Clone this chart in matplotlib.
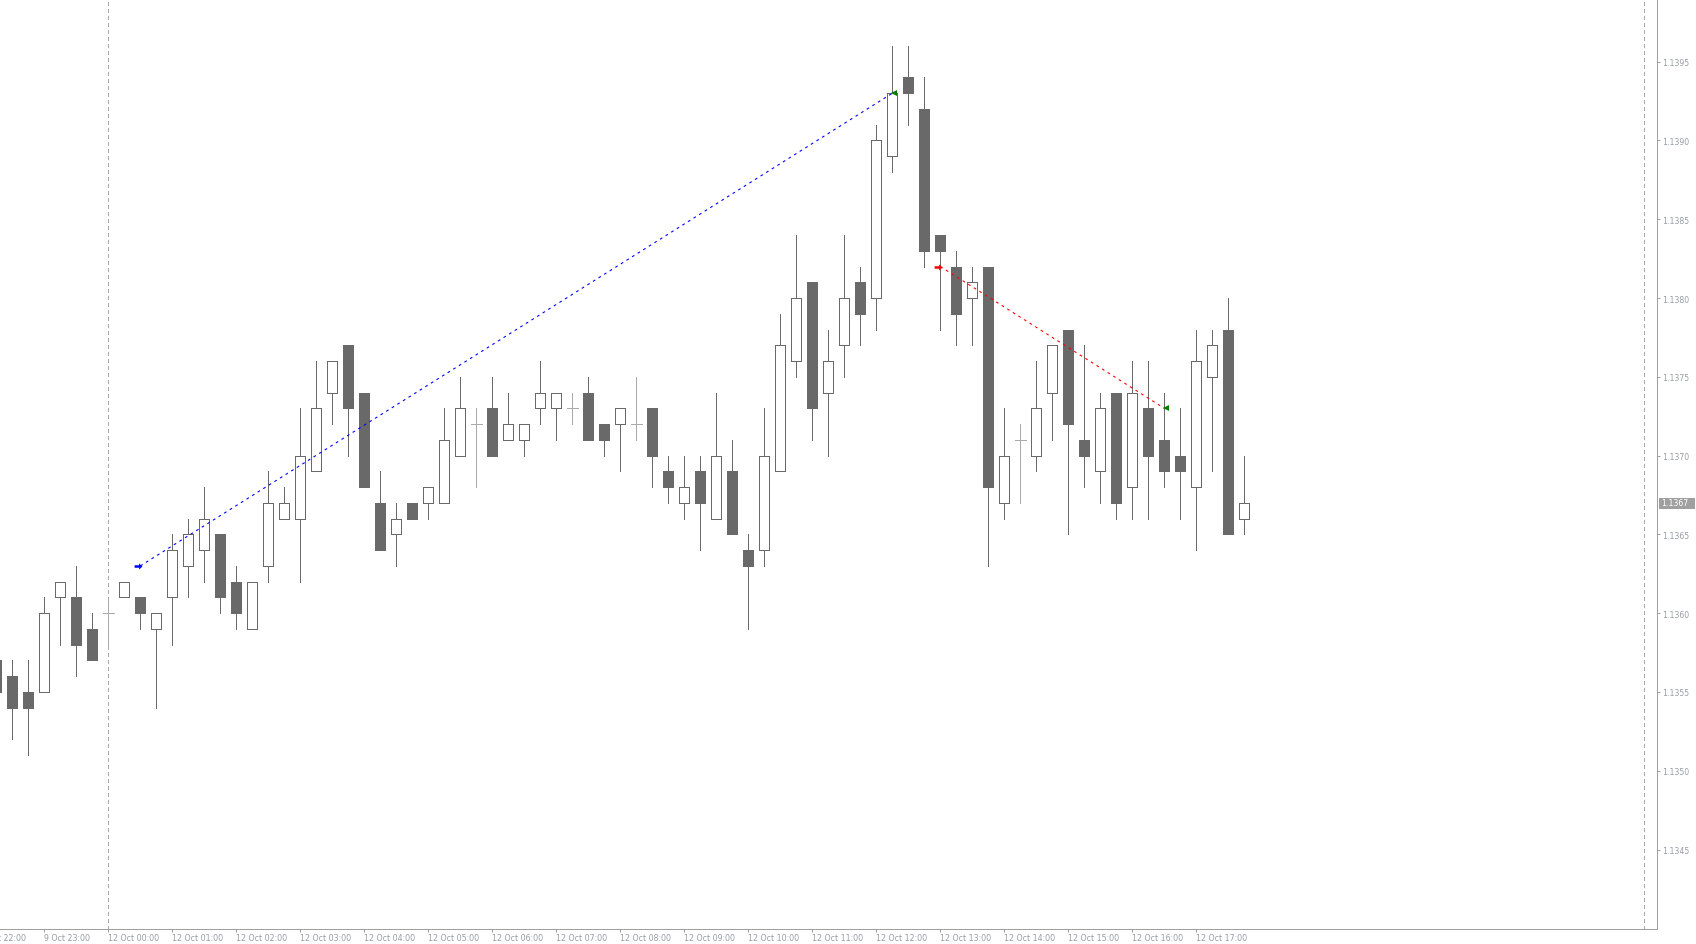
import matplotlib
matplotlib.use("Agg")
import matplotlib.pyplot as plt
from matplotlib.path import Path
from matplotlib import transforms
import numpy as np

# ---------------- data (EURUSD M15, bar 0 = 12 Oct 00:00) ----------------
bar_index = list(range(-7, 72))
opens = [1.1357, 1.1356, 1.1355, 1.1355, 1.1361, 1.1361, 1.1359,
         1.1360, 1.1361, 1.1361, 1.1359, 1.1361, 1.1363, 1.1364, 1.1365,
         1.1362, 1.1359, 1.1363, 1.1366, 1.1366, 1.1369, 1.1374, 1.1377,
         1.1374, 1.1367, 1.1365, 1.1367, 1.1367, 1.1367, 1.1370, 1.1372,
         1.1373, 1.1371, 1.1371, 1.1373, 1.1373, 1.1373, 1.1374, 1.1372,
         1.1372, 1.1372, 1.1373, 1.1369, 1.1367, 1.1369, 1.1366, 1.1369,
         1.1364, 1.1364, 1.1369, 1.1376, 1.1381, 1.1374, 1.1377, 1.1381,
         1.1380, 1.1389, 1.1394, 1.1392, 1.1384, 1.1382, 1.1380, 1.1382,
         1.1367, 1.1371, 1.1370, 1.1374, 1.1378, 1.1371, 1.1369, 1.1374,
         1.1368, 1.1373, 1.1371, 1.1370, 1.1368, 1.1375, 1.1378, 1.1366]
highs = [1.1358, 1.1357, 1.1357, 1.1361, 1.1362, 1.1363, 1.1360,
         1.1361, 1.1362, 1.1361, 1.1360, 1.1365, 1.1366, 1.1368, 1.1365,
         1.1363, 1.1362, 1.1369, 1.1368, 1.1373, 1.1376, 1.1376, 1.1377,
         1.1374, 1.1369, 1.1367, 1.1367, 1.1368, 1.1373, 1.1375, 1.1373,
         1.1375, 1.1374, 1.1372, 1.1376, 1.1374, 1.1374, 1.1375, 1.1372,
         1.1373, 1.1375, 1.1373, 1.1370, 1.1370, 1.1370, 1.1374, 1.1371,
         1.1365, 1.1373, 1.1379, 1.1384, 1.1381, 1.1378, 1.1384, 1.1382,
         1.1391, 1.1396, 1.1396, 1.1394, 1.1384, 1.1383, 1.1382, 1.1382,
         1.1373, 1.1372, 1.1376, 1.1377, 1.1378, 1.1377, 1.1374, 1.1374,
         1.1376, 1.1376, 1.1374, 1.1373, 1.1378, 1.1378, 1.1380, 1.1370]
lows = [1.1354, 1.1352, 1.1351, 1.1355, 1.1358, 1.1356, 1.1357,
        1.1358, 1.1361, 1.1359, 1.1354, 1.1358, 1.1361, 1.1362, 1.1360,
        1.1359, 1.1359, 1.1362, 1.1366, 1.1362, 1.1369, 1.1372, 1.1370,
        1.1368, 1.1364, 1.1363, 1.1366, 1.1366, 1.1367, 1.1370, 1.1368,
        1.1370, 1.1371, 1.1370, 1.1372, 1.1371, 1.1372, 1.1371, 1.1370,
        1.1369, 1.1371, 1.1368, 1.1367, 1.1366, 1.1364, 1.1366, 1.1365,
        1.1359, 1.1363, 1.1369, 1.1375, 1.1371, 1.1370, 1.1375, 1.1377,
        1.1378, 1.1388, 1.1391, 1.1382, 1.1378, 1.1377, 1.1377, 1.1363,
        1.1366, 1.1367, 1.1369, 1.1371, 1.1365, 1.1368, 1.1367, 1.1366,
        1.1366, 1.1366, 1.1368, 1.1366, 1.1364, 1.1369, 1.1365, 1.1365]
closes = [1.1355, 1.1354, 1.1354, 1.1360, 1.1362, 1.1358, 1.1357,
          1.1360, 1.1362, 1.1360, 1.1360, 1.1364, 1.1365, 1.1366, 1.1361,
          1.1360, 1.1362, 1.1367, 1.1367, 1.1370, 1.1373, 1.1376, 1.1373,
          1.1368, 1.1364, 1.1366, 1.1366, 1.1368, 1.1371, 1.1373, 1.1372,
          1.1370, 1.1372, 1.1372, 1.1374, 1.1374, 1.1373, 1.1371, 1.1371,
          1.1373, 1.1372, 1.1370, 1.1368, 1.1368, 1.1367, 1.1370, 1.1365,
          1.1363, 1.1370, 1.1377, 1.1380, 1.1373, 1.1376, 1.1380, 1.1379,
          1.1390, 1.1393, 1.1393, 1.1383, 1.1383, 1.1379, 1.1381, 1.1368,
          1.1370, 1.1371, 1.1373, 1.1377, 1.1372, 1.1370, 1.1373, 1.1367,
          1.1374, 1.1370, 1.1369, 1.1369, 1.1376, 1.1377, 1.1365, 1.1367]

time_tick_bars = list(range(-8, 69, 4))
time_tick_labels = ["9 Oct 22:00", "9 Oct 23:00"] + \
    ["12 Oct %02d:00" % h for h in range(0, 18)]

price_ticks = [1.1345, 1.1350, 1.1355, 1.1360, 1.1365, 1.1370,
               1.1375, 1.1380, 1.1385, 1.1390, 1.1395]

separator_bars = [0, 96]

# trades: (open bar, open price, close bar, close price)
buy_trade = (2, 1.1363, 49, 1.1393)
sell_trade = (52, 1.1382, 66, 1.1373)

current_price = closes[-1]

# ---------------- figure ----------------
W, H = 1696, 945
PX = 0.72  # one pixel in points at dpi 100
fig = plt.figure(figsize=(W / 100, H / 100), dpi=100)
fig.patch.set_facecolor("white")
ax = fig.add_axes([0, 15 / H, 1657 / W, 930 / H])
ax.set_facecolor("white")
ax.set_xlim(-6.77, 96.79)
ax.set_ylim(1.1339955, 1.139898)

CANDLE = "#696969"
DOJI = "#a9a9a9"
AXIS = "#a0a0a0"
TEXT = "#979ca6"
BODY_W = 0.64

x = np.array(bar_index, dtype=float)
o = np.array(opens)
h = np.array(highs)
l = np.array(lows)
c = np.array(closes)
doji = np.isclose(o, c)
up = (c > o) & ~doji
down = (c < o) & ~doji

wick_colors = [DOJI if d else CANDLE for d in doji]
ax.vlines(x, l, h, colors=wick_colors, linewidth=PX, zorder=3,
          antialiased=False)
ax.bar(x[up], (c - o)[up], bottom=o[up], width=BODY_W, facecolor="white",
       edgecolor=CANDLE, linewidth=PX, zorder=4, antialiased=False)
ax.bar(x[down], (o - c)[down], bottom=c[down], width=BODY_W,
       facecolor=CANDLE, edgecolor=CANDLE, linewidth=PX, zorder=4,
       antialiased=False)
ax.hlines(o[doji], x[doji] - BODY_W / 2 - 0.03, x[doji] + BODY_W / 2 + 0.03,
          colors=DOJI, linewidth=PX, zorder=4, antialiased=False)

# period separators
for sb in separator_bars:
    ax.axvline(sb, color="#a8a8a8", linewidth=PX, linestyle=(0, (3, 3)),
               zorder=2, antialiased=False)

# trade lines and arrows
arrow_path = Path([(-1, -0.32), (0.15, -0.32), (0.15, -0.8), (1, 0),
                   (0.15, 0.8), (0.15, 0.32), (-1, 0.32), (-1, -0.32)],
                  [Path.MOVETO] + [Path.LINETO] * 6 + [Path.CLOSEPOLY])
for trade, col in ((buy_trade, "#0000ff"), (sell_trade, "#ff0000")):
    ob, op, cb, cp = trade
    ax.plot([ob, cb], [op, cp], color=col, linewidth=PX * 1.1,
            linestyle=(0, (2.5, 3.5)), zorder=6)
    ax.plot([ob - 0.15], [op], marker=arrow_path, markersize=5.6,
            color=col, markeredgewidth=0, zorder=7)
    ax.plot([cb + 0.13], [cp], marker="<", markersize=4.8,
            color="#007f00", markeredgewidth=0, zorder=7)

# ---------------- axes styling ----------------
for s in ("top", "left"):
    ax.spines[s].set_visible(False)
for s in ("right", "bottom"):
    ax.spines[s].set_color(AXIS)
    ax.spines[s].set_linewidth(PX)

ax.yaxis.set_ticks_position("right")
ax.set_yticks(price_ticks)
ax.set_yticklabels(["%.4f" % p for p in price_ticks])
ax.tick_params(axis="y", direction="out", length=3 * PX, width=PX,
               color=AXIS, labelcolor=TEXT, labelsize=5.6, pad=1.6)

xmin, xmax = ax.get_xlim()
ax.set_xticks([t for t in time_tick_bars if xmin <= t <= xmax])
ax.set_xticklabels([])
ax.tick_params(axis="x", direction="out", length=3 * PX, width=PX,
               color=AXIS)

lab_trans = transforms.blended_transform_factory(ax.transData, fig.transFigure)
for tb, tl in zip(time_tick_bars, time_tick_labels):
    ax.text(tb - 0.05, (H - 939) / H, tl, transform=lab_trans, ha="left",
            va="center", fontsize=5.7, color=TEXT, clip_on=False)

# current price label
cur_trans = transforms.blended_transform_factory(fig.transFigure, ax.transData)
rect_path = Path([(-18, -5.5), (18, -5.5), (18, 5.5), (-18, 5.5), (-18, -5.5)],
                 [Path.MOVETO] + [Path.LINETO] * 3 + [Path.CLOSEPOLY])
ax.plot([1677 / W], [current_price], marker=rect_path, markersize=36 * PX,
        color="#a0a0a0", markeredgewidth=0, transform=cur_trans,
        clip_on=False, zorder=10)
ax.text(1661.5 / W, current_price, "%.4f" % current_price, transform=cur_trans,
        ha="left", va="center", fontsize=5.6, color="white", clip_on=False,
        zorder=11)

fig.savefig("out.png", dpi=100, facecolor="white")
